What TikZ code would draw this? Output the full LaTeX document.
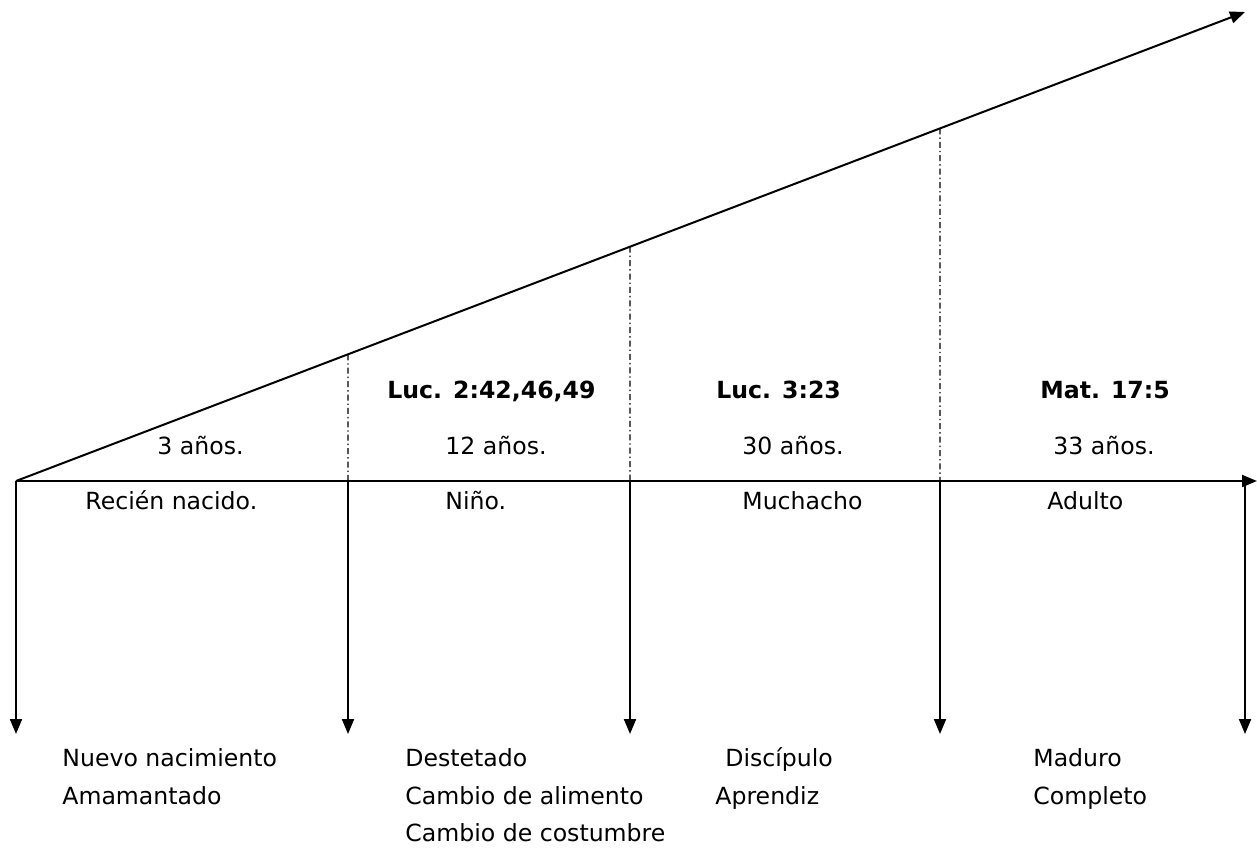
\documentclass[tikz,border=0pt]{standalone}
\usepackage{fontspec}
\setmainfont{DejaVu Sans}
\usetikzlibrary{arrows.meta,calc}
\tikzset{
  axis/.style={line width=1pt,-{Triangle[length=7.5pt,width=6pt]}},
  divider/.style={line width=0.7pt,dash pattern=on 3pt off 1.5pt on 0.7pt off 1.5pt},
  lbl/.style={anchor=base west,inner sep=0pt,font=\fontsize{11.8}{14}\selectfont},
  ref/.style={lbl,font=\fontsize{11.8}{14}\selectfont\bfseries}
}
\begin{document}
\begin{tikzpicture}[x=0.5pt,y=-0.5pt]
\useasboundingbox (0,0) rectangle (1257,847);
% main points
\coordinate (O) at (16,481);
\coordinate (T) at (1245,12);
\coordinate (H) at (1257,481);
\foreach \n/\x in {a/16,b/348,c/630,d/940,e/1245}{
  \coordinate (top\n) at ($(O)!{(\x-16)/1229}!(T)$);
  \coordinate (base\n) at (\x,481);
  \coordinate (tip\n) at (\x,734);
}
% axes
\draw[axis] (O) -- (T);
\draw[axis] (O) -- (H);
% dividers
\draw[divider] (topb) -- (baseb);
\draw[divider] (topc) -- (basec);
\draw[divider] (topd) -- (based);
% down arrows
\foreach \n in {a,b,c,d,e}{ \draw[axis] (base\n) -- (tip\n); }
% references
\node[ref] (r1) at (387,398) {Luc. 2:42,46,49};
\node[ref] (r2) at (716,398) {Luc. 3:23};
\node[ref] (r3) at (1040,398) {Mat. 17:5};
% ages
\node[lbl] (y1) at (157,454) {3 años.};
\node[lbl] (y2) at (445,454) {12 años.};
\node[lbl] (y3) at (742,454) {30 años.};
\node[lbl] (y4) at (1053,454) {33 años.};
% stages
\node[lbl] (s1) at (85,509) {Recién nacido.};
\node[lbl] (s2) at (445,509) {Niño.};
\node[lbl] (s3) at (742,509) {Muchacho};
\node[lbl] (s4) at (1047,509) {Adulto};
% descriptions
\node[lbl] (d1a) at (62,766) {Nuevo nacimiento};
\node[lbl] (d1b) at (62,804) {Amamantado};
\node[lbl] (d2a) at (405,766) {Destetado};
\node[lbl] (d2b) at (405,804) {Cambio de alimento};
\node[lbl] (d2c) at (405,841) {Cambio de costumbre};
\node[lbl] (d3a) at (725,766) {Discípulo};
\node[lbl] (d3b) at (715,804) {Aprendiz};
\node[lbl] (d4a) at (1033,766) {Maduro};
\node[lbl] (d4b) at (1033,804) {Completo};
\end{tikzpicture}
\end{document}
